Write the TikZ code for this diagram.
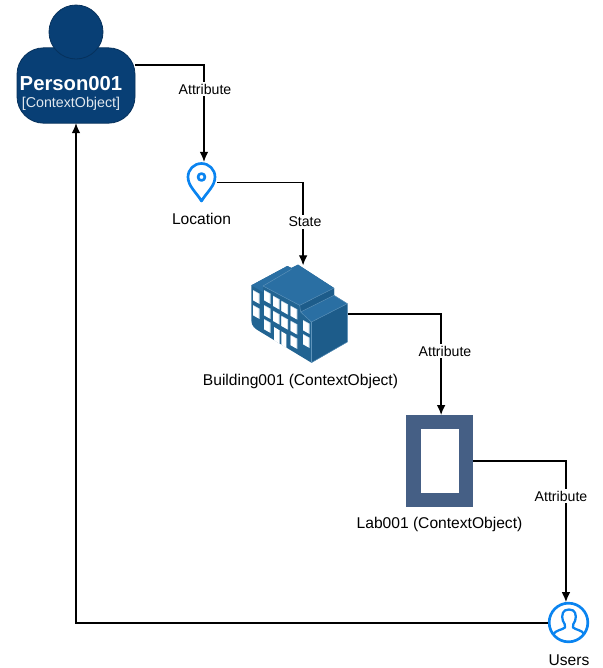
\documentclass[tikz,border=0pt]{standalone}
\usepackage{fontspec}
\setmainfont{Liberation Sans}
\usetikzlibrary{arrows.meta}
\definecolor{personfill}{HTML}{083F75}
\definecolor{personline}{HTML}{06315C}
\definecolor{pinblue}{HTML}{0A84F0}
\definecolor{labblue}{HTML}{455F85}
\definecolor{bldtop}{HTML}{2A6FA3}
\definecolor{bldface}{HTML}{226492}
\definecolor{bldside}{HTML}{1D5C8A}
\definecolor{bldline}{HTML}{5E93BA}
\definecolor{winshade}{HTML}{C9DCEA}
\tikzset{
  conn/.style={draw=black,line width=0.95pt,-{Latex[length=7.5pt,width=6.5pt]}},
  edgelabel/.style={fill=white,inner sep=1.2pt,font=\fontsize{10.6}{12}\selectfont,text=black},
  caption/.style={font=\fontsize{11.7}{14}\selectfont,text=black,inner sep=0pt},
  iconbox/.style={inner sep=0pt,outer sep=0pt,minimum width=#1},
  iconline/.style={draw=pinblue,line width=2pt,line join=round,line cap=round},
  bldedge/.style={draw=bldline,line width=0.35pt,line join=round}
}
\begin{document}
\begin{tikzpicture}[x=0.75pt,y=-0.75pt]
\useasboundingbox (0,0) rectangle (603,668);
\fill[white] (0,0) rectangle (603,668);

% Person
\node[rounded corners=20pt,fill=personfill,draw=personline,line width=0.6pt,minimum width=88.5pt,minimum height=56.5pt,inner sep=0pt,outer sep=0pt] (person) at (76,85.5) {};
\node[circle,fill=personfill,draw=personline,line width=0.6pt,minimum size=40.5pt,inner sep=0pt,outer sep=0pt] (head) at (76,32) {};
\node[text=white,inner sep=0pt,font=\bfseries\fontsize{15.2}{17}\selectfont] (ptitle) at (71,83.5) {Person001};
\node[text=white,inner sep=0pt,font=\fontsize{10.7}{12}\selectfont,text opacity=0.88] (psub) at (71,103.5) {[ContextObject]};

% Location pin
\node[iconbox=22.5pt,minimum height=31pt] (loc) at (202,182.5) {};
\draw[iconline] (201.5,201) .. controls (196,192) and (188,186) .. (188,177)
  .. controls (188,169.5) and (194,163.5) .. (201.5,163.5)
  .. controls (209,163.5) and (215,169.5) .. (215,177)
  .. controls (215,186) and (207,192) .. (201.5,201) -- cycle;
\draw[iconline] (201.5,177) circle[radius=2.6pt];
\node[caption] (loccap) at (201.5,219) {Location};

% Building
\node[iconbox=72pt,minimum height=73pt] (bld) at (299.5,314) {};
\begin{scope}[shift={(248,262)},x=0.25pt,y=-0.25pt]
  \fill[bldface] (10,70) -- (118,12) -- (130,18) -- (150,8) -- (258,78) -- (258,100) -- (298,125) -- (298,240) -- (190,302) -- (38,210)
     .. controls (20,200) and (10,192) .. (10,175) -- cycle;
  \fill[bldtop] (45,72) -- (130,22) -- (118,12) -- (130,18) -- (150,8) -- (258,78) -- (155,130) -- cycle;
  \fill[bldtop] (10,70) -- (118,12) -- (130,22) -- (45,72) -- (45,90) -- cycle;
  \fill[bldside] (190,180) -- (298,125) -- (298,240) -- (190,302) -- cycle;
  \fill[bldtop] (158,150) -- (258,100) -- (298,125) -- (190,180) -- cycle;
  \fill[bldside] (155,130) -- (258,78) -- (258,100) -- (158,150) -- cycle;
  \draw[bldedge] (45,72) -- (155,130) -- (258,78);
  \draw[bldedge] (45,72) -- (130,22);
  \draw[bldedge] (155,130) -- (158,150) -- (258,100) -- (298,125) -- (190,180) -- (158,150);
  \draw[bldedge] (190,180) -- (190,302);
  \draw[bldedge] (298,128) -- (298,240) -- (190,302);
  \foreach \cx/\cy in {25/105,25/150,58/105,58/150,58/192,85/122,85/167,110/137,110/182,138/152,138/197,138/240,175/195,175/237}{
    \fill[winshade] (\cx-10,\cy-21) -- (\cx+10,\cy-10) -- (\cx+10,\cy+21) -- (\cx-10,\cy+10) -- cycle;
    \fill[white] (\cx-10,\cy-19) -- (\cx+7,\cy-9) -- (\cx+7,\cy+19) -- (\cx-10,\cy+9) -- cycle;
  }
  \fill[white] (78,195) -- (95,205) -- (95,245) -- (78,235) -- cycle;
  \fill[white] (100,208) -- (115,217) -- (115,258) -- (100,248) -- cycle;
\end{scope}
\node[caption] (bldcap) at (300.5,381) {Building001 (ContextObject)};

% Lab
\node[fill=labblue,inner sep=0pt,outer sep=0pt,minimum width=50.25pt,minimum height=69pt] (lab) at (439.5,461) {};
\node[fill=white,inner sep=0pt,outer sep=0pt,minimum width=28.5pt,minimum height=48pt] (labin) at (440,461) {};
\node[caption] (labcap) at (439.5,524) {Lab001 (ContextObject)};

% Users
\node[circle,draw=pinblue,line width=2pt,fill=white,minimum size=29pt,inner sep=0pt,outer sep=0.8pt] (users) at (568.5,622.5) {};
\draw[iconline,line width=1.7pt] (553.5,634) .. controls (556,630) and (562,630) .. (565,627.5)
  .. controls (565.5,625) and (564.5,623.5) .. (563,621)
  .. controls (561,614) and (563,609.5) .. (569,609.5)
  .. controls (575,609.5) and (577,614) .. (575,621)
  .. controls (573.5,623.5) and (572.5,625) .. (573,627.5)
  .. controls (576,630) and (582,630) .. (584,634);
\node[caption] (userscap) at (569,660) {Users};

% Connectors
\draw[conn] ([yshift=15.4pt]person.east) -| ([xshift=1.5pt]loc.north);
\node[edgelabel] (l1) at (205,89) {Attribute};
\draw[conn] (loc.east) -| ([xshift=2.7pt]bld.north);
\node[edgelabel] (l2) at (305,222) {State};
\draw[conn] (bld.east) -| ([xshift=1.2pt]lab.north);
\node[edgelabel] (l3) at (445,351) {Attribute};
\draw[conn] (lab.east) -| ([xshift=-1.9pt]users.north);
\node[edgelabel] (l4) at (561,496) {Attribute};
\draw[conn] ([yshift=-0.4pt]users.west) -| (person.south);
\end{tikzpicture}
\end{document}
